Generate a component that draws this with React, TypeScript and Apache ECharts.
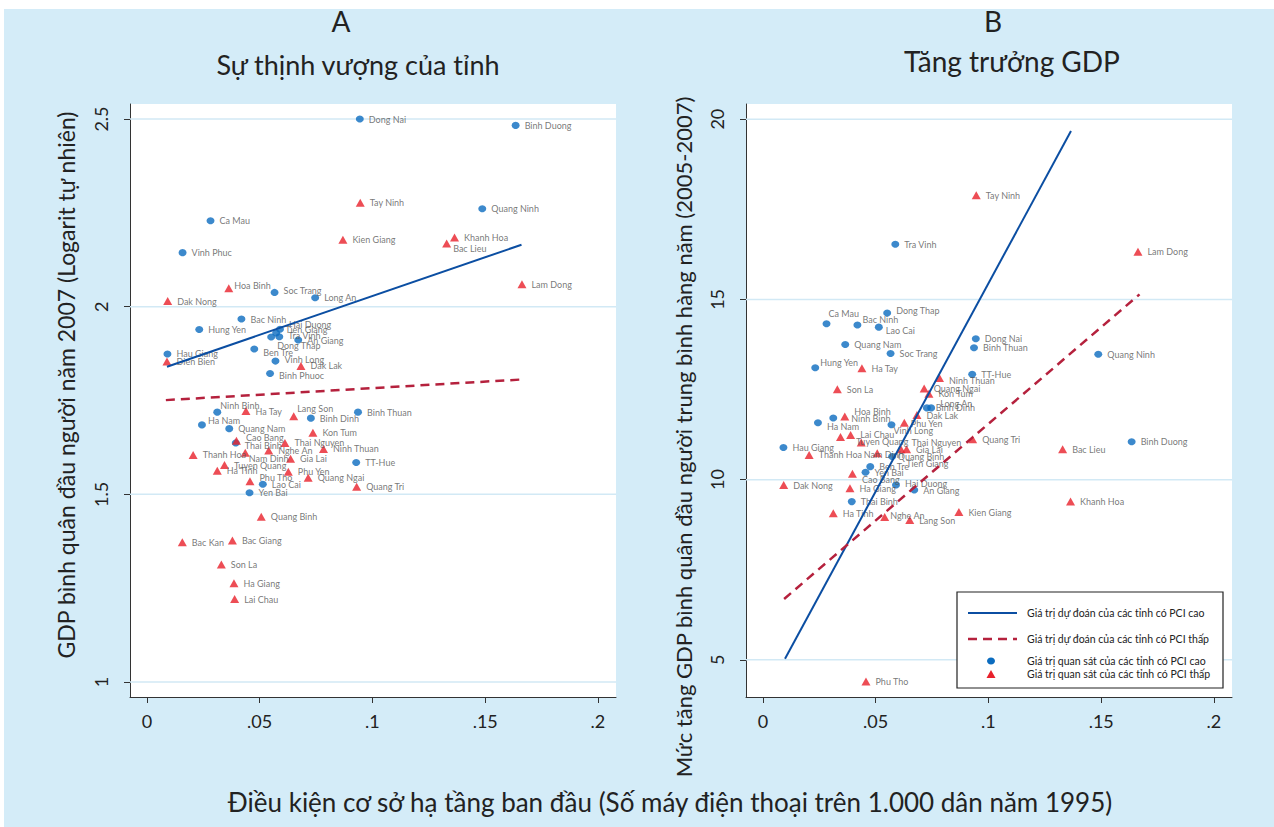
import React, { useEffect, useRef } from "react";
import * as echarts from "echarts";

// ---- Axes ----
const X_MIN = -0.0075;
const X_MAX = 0.208;
const X_TICKS = [0, 0.05, 0.1, 0.15, 0.2];
const X_TICK_LABELS = ["0", ".05", ".1", ".15", ".2"];
const A_Y_MIN = 0.96;
const A_Y_MAX = 2.54;
const A_Y_TICKS = [1, 1.5, 2, 2.5];
const A_Y_TICK_LABELS = ["1", "1.5", "2", "2.5"];
const B_Y_MIN = 3.97;
const B_Y_MAX = 20.42;
const B_Y_TICKS = [5, 10, 15, 20];
const B_Y_TICK_LABELS = ["5", "10", "15", "20"];

// ---- Provinces with high PCI ----
const HIGH_NAMES = [
  "Dong Nai", "Binh Duong", "Quang Ninh", "Ca Mau", "Vinh Phuc", "Soc Trang", "Long An",
  "Bac Ninh", "Hung Yen", "Hai Duong", "Tien Giang", "Tra Vinh", "Dong Thap", "An Giang",
  "Ben Tre", "Vinh Long", "Binh Phuoc", "Hau Giang", "Ninh Binh", "Ha Nam", "Quang Nam",
  "Binh Dinh", "Binh Thuan", "TT-Hue", "Thai Binh", "Lao Cai", "Yen Bai",
];
const HIGH_PHONES = [
  0.0944, 0.1635, 0.1487, 0.0282, 0.0158, 0.0566, 0.0746,
  0.0419, 0.0232, 0.059, 0.0573, 0.0587, 0.0551, 0.0671,
  0.0476, 0.057, 0.0546, 0.0091, 0.0312, 0.0244, 0.0365,
  0.0727, 0.0936, 0.0928, 0.0394, 0.0514, 0.0455,
];
const HIGH_LN_GDP = [
  2.5, 2.483, 2.261, 2.229, 2.144, 2.038, 2.024,
  1.967, 1.939, 1.94, 1.93, 1.92, 1.919, 1.911,
  1.887, 1.855, 1.822, 1.874, 1.719, 1.685, 1.675,
  1.703, 1.719, 1.585, 1.637, 1.527, 1.504,
];
const HIGH_GROWTH = [
  13.91, 11.05, 13.48, 14.325, null, 13.5, 11.99,
  14.29, 13.105, 9.85, 10.64, 16.53, 14.62, 9.71,
  10.36, 11.52, null, 10.89, 11.71, 11.58, 13.75,
  11.99, 13.66, 12.92, 9.39, 14.23, 10.205,
];

// ---- Provinces with low PCI ----
const LOW_NAMES = [
  "Tay Ninh", "Kien Giang", "Khanh Hoa", "Bac Lieu", "Lam Dong", "Hoa Binh", "Dak Nong",
  "Dien Bien", "Dak Lak", "Ha Tay", "Lang Son", "Kon Tum", "Thai Nguyen", "Cao Bang",
  "Ninh Thuan", "Nghe An", "Thanh Hoa", "Nam Dinh", "Gia Lai", "Tuyen Quang", "Ha Tinh",
  "Phu Yen", "Quang Ngai", "Phu Tho", "Quang Tri", "Quang Binh", "Bac Giang", "Bac Kan",
  "Son La", "Ha Giang", "Lai Chau",
];
const LOW_PHONES = [
  0.0946, 0.0869, 0.1364, 0.1329, 0.1663, 0.0363, 0.0092,
  0.0089, 0.0683, 0.0439, 0.0651, 0.0736, 0.0612, 0.0397,
  0.0783, 0.054, 0.0205, 0.0436, 0.0637, 0.0344, 0.0312,
  0.0627, 0.0715, 0.0457, 0.093, 0.0507, 0.0379, 0.0157,
  0.033, 0.0386, 0.0389,
];
const LOW_LN_GDP = [
  2.277, 2.178, 2.184, 2.168, 2.06, 2.049, 2.015,
  1.854, 1.842, 1.722, 1.708, 1.664, 1.637, 1.643,
  1.621, 1.617, 1.605, 1.611, 1.595, 1.578, 1.563,
  1.56, 1.544, 1.535, 1.52, 1.44, 1.377, 1.372,
  1.313, 1.263, 1.221,
];
const LOW_GROWTH = [
  17.89, 9.1, 9.39, 10.84, 16.32, 11.75, 9.85,
  null, 11.79, 13.09, 8.88, 12.38, 10.84, 10.16,
  12.82, 8.96, 10.685, 11.03, 10.84, 11.18, 9.07,
  11.58, 12.53, 4.4, 11.12, 10.73, null, null,
  12.51, 9.76, 11.24,
];

// ---- Fitted values (line end points) ----
const FIT_A_HIGH_X = [0.0089, 0.1661];
const FIT_A_HIGH_Y = [1.84, 2.165];
const FIT_A_LOW_X = [0.0084, 0.1662];
const FIT_A_LOW_Y = [1.751, 1.806];
const FIT_B_HIGH_X = [0.0098, 0.1366];
const FIT_B_HIGH_Y = [5.03, 19.67];
const FIT_B_LOW_X = [0.0094, 0.167];
const FIT_B_LOW_Y = [6.69, 15.14];

// ---- Label nudges (pixels) to keep crowded names readable ----
const NUDGE_A: Record<string, number[]> = {
  "Bac Lieu": [-3, 5], "Hoa Binh": [-4, -3], "Soc Trang": [0, -2], "Hai Duong": [0, -5],
  "Tien Giang": [0, -3], "Tra Vinh": [0, -1], "Dong Thap": [-3, 8], "Ben Tre": [0, 3],
  "Vinh Long": [0, -2], "Binh Phuoc": [0, 2], "Ninh Binh": [-6, -7], "Lang Son": [-6, -8],
  "Ha Nam": [-3, -4], "Cao Bang": [0, -3], "Thai Binh": [0, 3], "Nam Dinh": [-6, 6],
  "Phu Tho": [0, -4],
};
const NUDGE_B: Record<string, number[]> = {
  "Ca Mau": [-7, -10], "Dong Thap": [0, -3], "Bac Ninh": [-4, -5], "Lao Cai": [-2, 3],
  "Hung Yen": [-4, -5], "Ninh Thuan": [0, 3], "Long An": [0, -4], "Hoa Binh": [0, -5],
  "Ninh Binh": [9, 1], "Ha Nam": [0, 4], "Vinh Long": [-7, 6], "Phu Yen": [-3, 1],
  "Tuyen Quang": [6, 4], "Nam Dinh": [-7, 12], "Quang Binh": [11, 3], "Tien Giang": [5, 7],
  "Thai Nguyen": [1, -7], "Cao Bang": [0, 6], "Nghe An": [-4, -2], "Hai Duong": [0, -2],
};

const FONT = "Lato, 'DejaVu Sans', sans-serif";
const BG = "#d4ecf8";
const GRID_LINE = "#d2e9f5";
const BLUE_DOT = "#0b6cbf";
const RED_TRI = "#e8212b";
const BLUE_LINE = "#0b4ea2";
const RED_LINE = "#b5213d";
const AXIS = "#333";

const tickFormatter = (ticks: number[], labels: string[]) => (v: number) => {
  const i = ticks.findIndex((t) => Math.abs(t - v) < 1e-9);
  return i >= 0 ? labels[i] : "";
};

function makeX(gridIndex: number) {
  return {
    type: "value",
    gridIndex,
    min: X_MIN,
    max: X_MAX,
    axisLine: { show: true, onZero: false, lineStyle: { color: AXIS, width: 1 } },
    axisTick: { show: true, customValues: X_TICKS, length: 6, lineStyle: { color: AXIS } },
    axisLabel: {
      customValues: X_TICKS,
      formatter: tickFormatter(X_TICKS, X_TICK_LABELS),
      fontSize: 18,
      color: "#222",
      fontFamily: FONT,
      margin: 15,
    },
    splitLine: { show: false },
  };
}

function makeY(gridIndex: number, min: number, max: number, ticks: number[], labels: string[]) {
  return {
    type: "value",
    gridIndex,
    min,
    max,
    axisLine: { show: true, onZero: false, lineStyle: { color: AXIS, width: 1 } },
    axisTick: { show: true, customValues: ticks, length: 6, lineStyle: { color: AXIS } },
    axisLabel: {
      customValues: ticks,
      formatter: tickFormatter(ticks, labels),
      rotate: 90,
      fontSize: 18,
      color: "#222",
      fontFamily: FONT,
      margin: 20,
    },
    splitLine: { show: false },
  };
}

function gridLines(ax: number, ticks: number[]) {
  return ticks.map((t) => ({
    type: "line",
    xAxisIndex: ax,
    yAxisIndex: ax,
    data: [[X_MIN, t], [X_MAX, t]],
    symbol: "none",
    silent: true,
    z: 1,
    lineStyle: { color: GRID_LINE, width: 1.5 },
  }));
}

function points(names: string[], xs: number[], ys: (number | null)[]) {
  const out: any[] = [];
  names.forEach((n, i) => {
    const y = ys[i];
    if (y === null || y === undefined) return;
    out.push({ name: n, value: [xs[i], y] });
  });
  return out;
}

function scatter(ax: number, data: any[], high: boolean, nudge: Record<string, number[]>) {
  return {
    type: "scatter",
    xAxisIndex: ax,
    yAxisIndex: ax,
    data,
    symbol: high ? "circle" : "triangle",
    symbolSize: high ? [8, 7] : [9, 8],
    itemStyle: { color: high ? BLUE_DOT : RED_TRI },
    label: {
      show: true,
      position: "right",
      distance: 5,
      formatter: "{b}",
      fontSize: 9,
      color: "#555",
      fontFamily: FONT,
    },
    labelLayout: (params: any) => {
      const item = data[params.dataIndex];
      const d = item && nudge[item.name];
      return d ? { dx: d[0], dy: d[1] } : {};
    },
    z: 3,
  };
}

function fitLine(ax: number, xs: number[], ys: number[], high: boolean) {
  return {
    type: "line",
    xAxisIndex: ax,
    yAxisIndex: ax,
    data: xs.map((x, i) => [x, ys[i]]),
    symbol: "none",
    silent: true,
    z: 4,
    lineStyle: high
      ? { color: BLUE_LINE, width: 2 }
      : { color: RED_LINE, width: 2.5, type: [9, 6] },
  };
}

const LEGEND_ITEMS = [
  "Giá trị dự đoán của các tỉnh có PCI cao",
  "Giá trị dự đoán của các tỉnh có PCI thấp",
  "Giá trị quan sát của các tỉnh có PCI cao",
  "Giá trị quan sát của các tỉnh có PCI thấp",
];

function legendGraphic() {
  const lx = 957;
  const ly = 592;
  const rows = [613, 639, 661, 674];
  return [
    {
      type: "rect",
      shape: { x: lx, y: ly, width: 266, height: 96 },
      style: { fill: "#fff", stroke: "#222", lineWidth: 1.2 },
      z: 10,
    },
    {
      type: "line",
      shape: { x1: lx + 11, y1: rows[0], x2: lx + 60, y2: rows[0] },
      style: { stroke: BLUE_LINE, lineWidth: 2 },
      z: 11,
    },
    {
      type: "line",
      shape: { x1: lx + 11, y1: rows[1], x2: lx + 60, y2: rows[1] },
      style: { stroke: RED_LINE, lineWidth: 2.5, lineDash: [9, 6] },
      z: 11,
    },
    {
      type: "ellipse",
      shape: { cx: lx + 34, cy: rows[2], rx: 4, ry: 3.5 },
      style: { fill: BLUE_DOT },
      z: 11,
    },
    {
      type: "polygon",
      shape: { points: [[lx + 34, rows[3] - 4], [lx + 38.5, rows[3] + 4], [lx + 29.5, rows[3] + 4]] },
      style: { fill: RED_TRI },
      z: 11,
    },
    ...LEGEND_ITEMS.map((t, i) => ({
      type: "text",
      x: lx + 70,
      y: rows[i],
      z: 11,
      style: { text: t, fontSize: 10.5, fill: "#222", fontFamily: FONT, textVerticalAlign: "middle" },
    })),
  ];
}

function textEl(text: string, x: number, y: number, size: number, rotation = 0) {
  return {
    type: "text",
    x,
    y,
    rotation,
    style: {
      text,
      fontSize: size,
      fill: "#222",
      fontFamily: FONT,
      textAlign: "center",
      textVerticalAlign: "middle",
    },
  };
}

export default function App() {
  const ref = useRef<HTMLDivElement>(null);

  useEffect(() => {
    if (!ref.current) return;
    const chart = echarts.init(ref.current, undefined, { renderer: "svg" });

    const option: any = {
      animation: false,
      backgroundColor: BG,
      grid: [
        { left: 130, top: 104, width: 486, height: 593, show: true, backgroundColor: "#fff", borderWidth: 0 },
        { left: 746, top: 104, width: 486, height: 593, show: true, backgroundColor: "#fff", borderWidth: 0 },
      ],
      xAxis: [makeX(0), makeX(1)],
      yAxis: [
        makeY(0, A_Y_MIN, A_Y_MAX, A_Y_TICKS, A_Y_TICK_LABELS),
        makeY(1, B_Y_MIN, B_Y_MAX, B_Y_TICKS, B_Y_TICK_LABELS),
      ],
      series: [
        ...gridLines(0, A_Y_TICKS),
        ...gridLines(1, B_Y_TICKS),
        scatter(0, points(HIGH_NAMES, HIGH_PHONES, HIGH_LN_GDP), true, NUDGE_A),
        scatter(0, points(LOW_NAMES, LOW_PHONES, LOW_LN_GDP), false, NUDGE_A),
        scatter(1, points(HIGH_NAMES, HIGH_PHONES, HIGH_GROWTH), true, NUDGE_B),
        scatter(1, points(LOW_NAMES, LOW_PHONES, LOW_GROWTH), false, NUDGE_B),
        fitLine(0, FIT_A_HIGH_X, FIT_A_HIGH_Y, true),
        fitLine(0, FIT_A_LOW_X, FIT_A_LOW_Y, false),
        fitLine(1, FIT_B_HIGH_X, FIT_B_HIGH_Y, true),
        fitLine(1, FIT_B_LOW_X, FIT_B_LOW_Y, false),
      ],
      graphic: [
        // white page margin above and left of the coloured panel
        { type: "rect", shape: { x: 0, y: 0, width: 1274, height: 9 }, style: { fill: "#fff" } },
        { type: "rect", shape: { x: 0, y: 0, width: 4, height: 827 }, style: { fill: "#fff" } },
        textEl("A", 341, 21, 28),
        textEl("Sự thịnh vượng của tỉnh", 358, 64, 27),
        textEl("B", 993, 21, 28),
        textEl("Tăng trưởng GDP", 1012, 61, 28),
        textEl("GDP bình quân đầu người năm 2007 (Logarit tự nhiên)", 66, 385, 23, Math.PI / 2),
        textEl("Mức tăng GDP bình quân đầu người trung bình hàng năm (2005-2007)", 683, 437, 22, Math.PI / 2),
        textEl("Điều kiện cơ sở hạ tầng ban đầu (Số máy điện thoại trên 1.000 dân năm 1995)", 670, 802, 26),
        ...legendGraphic(),
      ],
    };

    chart.setOption(option);
    return () => chart.dispose();
  }, []);

  return (
    <div
      ref={ref}
      style={{ position: "absolute", left: 0, top: 0, width: 1274, height: 827 }}
    />
  );
}
